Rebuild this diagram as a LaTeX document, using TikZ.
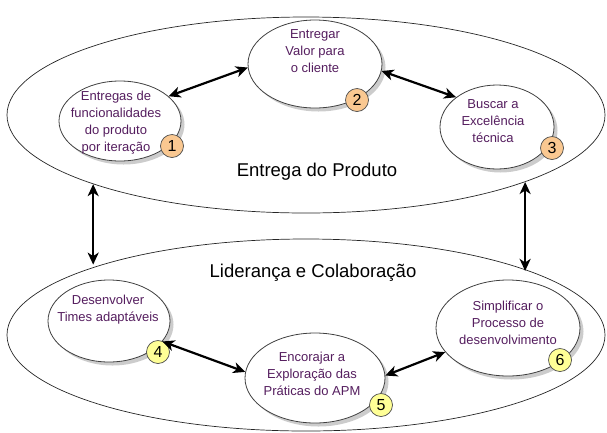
\documentclass[tikz,border=0pt]{standalone}
\usepackage{fontspec}
\setmainfont{Liberation Sans}
\usetikzlibrary{shapes.geometric,arrows.meta,shadows}
\definecolor{txt}{RGB}{85,30,95}
\definecolor{orangeb}{RGB}{250,200,145}
\definecolor{yellowb}{RGB}{255,255,150}
\begin{document}
\begin{tikzpicture}[x=1pt,y=-1pt,
  outer/.style={ellipse, draw=black!85, line width=0.7pt, inner sep=0pt},
  inner/.style={ellipse, draw=black!75, line width=0.8pt, fill=white, inner sep=0pt,
    drop shadow={shadow xshift=3.5pt, shadow yshift=-3.5pt, fill=black!20, opacity=1}},
  lbl/.style={align=center, inner sep=0pt, text=txt, font=\fontsize{13}{17}\selectfont},
  big/.style={inner sep=0pt, font=\fontsize{18.5}{20}\selectfont},
  badge/.style={circle, draw=black!70, line width=0.7pt, minimum size=23pt, inner sep=0pt,
    font=\fontsize{16}{16}\selectfont},
  dbl/.style={{Stealth[length=12pt,width=11pt,inset=3.5pt]}-{Stealth[length=12pt,width=11pt,inset=3.5pt]}, line width=2.2pt}]
\useasboundingbox (0,0) rectangle (607,432);
% outer ellipses
\node[outer, minimum width=598pt, minimum height=196pt] (T) at (306,115) {};
\node[outer, minimum width=598pt, minimum height=192pt] (B) at (306,335) {};
\node[big] (tT) at (317,172) {Entrega do Produto};
\node[big] (tB) at (313,273) {Liderança e Colaboração};
% inner ellipses
\node[inner, minimum width=122pt, minimum height=80pt] (e1) at (120,121) {};
\node[inner, minimum width=134pt, minimum height=88pt] (e2) at (315,64) {};
\node[inner, minimum width=114pt, minimum height=84pt] (e3) at (497,127) {};
\node[inner, minimum width=122pt, minimum height=82pt] (e4) at (109,321) {};
\node[inner, minimum width=140pt, minimum height=90pt] (e5) at (315,378) {};
\node[inner, minimum width=144pt, minimum height=96pt] (e6) at (508,328) {};
% labels
\node[lbl] (t1) at (116,123) {Entregas de\\funcionalidades\\do produto\\por iteração};
\node[lbl] (t2) at (315,51) {Entregar\\Valor para\\o cliente};
\node[lbl] (t3) at (493,121) {Buscar a\\Excelência\\técnica};
\node[lbl] (t4) at (108,310) {Desenvolver\\Times adaptáveis};
\node[lbl] (t5) at (312,374) {Encorajar a\\Exploração das\\Práticas do APM};
\node[lbl] (t6) at (508,323) {Simplificar o\\Processo de\\desenvolvimento};
% badges
\node[badge, fill=orangeb] (b1) at (172,146) {1};
\node[badge, fill=orangeb] (b2) at (357,100) {2};
\node[badge, fill=orangeb] (b3) at (552,148) {3};
\node[badge, fill=yellowb] (b4) at (158,352) {4};
\node[badge, fill=yellowb] (b5) at (381,405) {5};
\node[badge, fill=yellowb] (b6) at (560,360) {6};
% connectors
\draw[dbl] (e1.27) -- (e2.183);
\draw[dbl] (e2.354) -- (e3.144);
\draw[dbl] (e4.339) -- (e5.175);
\draw[dbl] (e5.2) -- (e6.201);
\draw[dbl] (T.198.6) -- (T.198.6 |- B.161.7);
\draw[dbl] (T.343.4) -- (T.343.4 |- B.16.4);
\end{tikzpicture}
\end{document}
